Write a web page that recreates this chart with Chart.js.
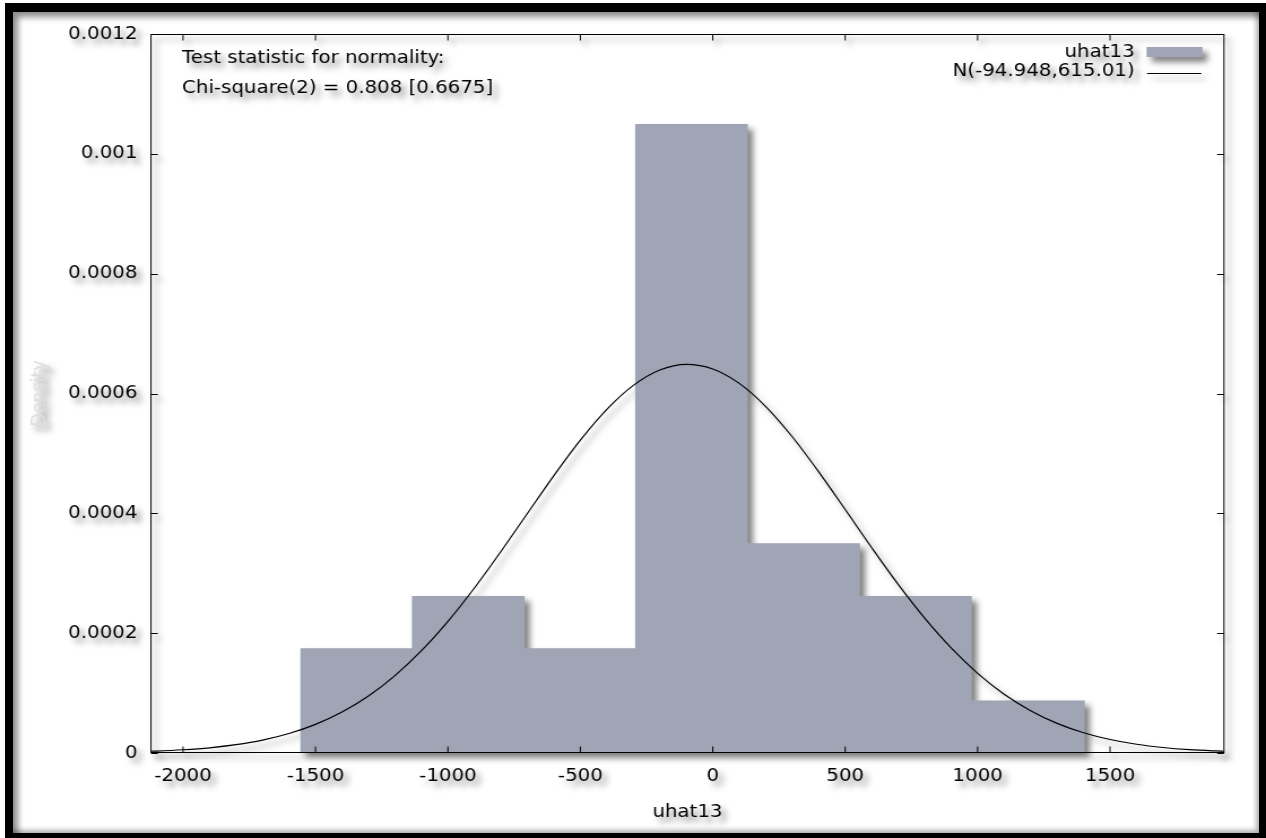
<!DOCTYPE html>
<html>
<head>
<meta charset="utf-8">
<title>uhat13 histogram</title>
<script src="https://cdn.jsdelivr.net/npm/chart.js@4.4.1/dist/chart.umd.min.js"></script>
<style>
  html, body { margin: 0; padding: 0; background: #fff; }
  #wrap { position: relative; width: 1266px; height: 838px; overflow: hidden; }
  #frame {
    position: absolute; left: 5px; top: 3px; width: 1261px; height: 835px;
    box-sizing: border-box; border-style: solid; border-color: #000;
    border-width: 9px 7px 5px 8px;
    box-shadow: inset 5px 5px 6px rgba(0,0,0,0.45), inset -3px -3px 5px rgba(0,0,0,0.3);
  }
  #chart {
    position: absolute; left: 0; top: 0;
    filter: drop-shadow(5px 5px 3px rgba(0,0,0,0.5));
  }
</style>
</head>
<body>
<div id="wrap">
  <div id="frame"></div>
  <!-- drawn narrower and stretched, the original picture is wider than tall text suggests -->
  <canvas id="chart" width="1120" height="838" style="width:1266px;height:838px"></canvas>
</div>
<script>
// histogram of uhat13 (bin edges and density per bin)
const binEdges = [-1558, -1136, -710, -293, 132, 556, 978, 1405];
const densities = [0.000175, 0.000262, 0.000175, 0.00105, 0.00035, 0.000262, 0.0000875];

// N(-94.948, 615.01) curve
const curveX = [-2121, -2100, -2000, -1900, -1800, -1700, -1600, -1500, -1400, -1300, -1200,
  -1100, -1000, -900, -800, -700, -600, -500, -400, -300, -200, -100, 0, 100, 200, 300,
  400, 500, 600, 700, 800, 900, 1000, 1100, 1200, 1300, 1400, 1500, 1600, 1700, 1800, 1900, 1930];
const curveY = [0.0000029, 0.0000032, 0.0000054, 0.0000087, 0.0000139, 0.0000215, 0.0000325,
  0.0000477, 0.0000683, 0.0000951, 0.0001291, 0.0001707, 0.0002197, 0.0002754, 0.0003363,
  0.0003998, 0.000463, 0.0005222, 0.0005736, 0.0006136, 0.0006393, 0.0006487, 0.000641,
  0.0006169, 0.0005782, 0.0005278, 0.0004692, 0.0004063, 0.0003426, 0.0002813, 0.000225,
  0.0001753, 0.000133, 0.0000982, 0.0000707, 0.0000495, 0.0000338, 0.0000225, 0.0000146,
  0.0000092, 0.0000056, 0.0000034, 0.0000029];

const xTicks = [-2000, -1500, -1000, -500, 0, 500, 1000, 1500];
const xTickLabels = ["-2000", "-1500", "-1000", "-500", "0", "500", "1000", "1500"];
const yTicks = [0, 0.0002, 0.0004, 0.0006, 0.0008, 0.001, 0.0012];
const yTickLabels = ["0", "0.0002", "0.0004", "0.0006", "0.0008", "0.001", "0.0012"];

const histLabel = "uhat13";
const curveLabel = "N(-94.948,615.01)";
const statLines = ["Test statistic for normality:", "Chi-square(2) = 0.808 [0.6675]"];

const X_MIN = -2121, X_MAX = 1930;
const BAR_COLOR = "#9fa5b5";
const FONT = { family: "'DejaVu Sans', Verdana, sans-serif", size: 17.5 };
const FONT_CSS = "17.5px 'DejaVu Sans', Verdana, sans-serif";

// step outline: start at 0, climb to each bin height, drop back at the last edge
const histPoints = [{ x: binEdges[0], y: 0 }];
densities.forEach((d, i) => histPoints.push({ x: binEdges[i], y: d }));
histPoints.push({ x: binEdges[binEdges.length - 1], y: densities[densities.length - 1] });
histPoints.push({ x: binEdges[binEdges.length - 1], y: 0 });

const curvePoints = curveX.map((x, i) => ({ x: x, y: curveY[i] }));

const boxPlugin = {
  id: "gnuplotBox",
  afterDatasetsDraw(chart) {
    const { ctx, chartArea: a, scales: { x, y } } = chart;
    const top = Math.round(a.top) + 0.5;
    const bottom = Math.round(a.bottom) - 0.5;
    ctx.save();
    ctx.strokeStyle = "#000";
    ctx.lineWidth = 1;
    ctx.strokeRect(a.left, top, a.right - a.left, bottom - top);

    // inward ticks on all four sides
    ctx.beginPath();
    xTicks.forEach(v => {
      const px = x.getPixelForValue(v);
      ctx.moveTo(px, bottom); ctx.lineTo(px, bottom - 6);
      ctx.moveTo(px, top); ctx.lineTo(px, top + 6);
    });
    yTicks.forEach(v => {
      const py = Math.round(y.getPixelForValue(v)) + 0.5;
      ctx.moveTo(a.left, py); ctx.lineTo(a.left + 6, py);
      ctx.moveTo(a.right, py); ctx.lineTo(a.right - 6, py);
    });
    ctx.stroke();

    // normality test text
    ctx.fillStyle = "#000";
    ctx.font = FONT_CSS;
    ctx.textBaseline = "middle";
    ctx.textAlign = "left";
    ctx.fillText(statLines[0], a.left + 27.5, a.top + 24);
    ctx.fillText(statLines[1], a.left + 27.5, a.top + 54);

    // key, top right
    const ds = chart.data.datasets;
    ctx.textAlign = "right";
    ctx.fillText(ds[1].label, a.right - 79, a.top + 18);
    ctx.fillText(ds[0].label, a.right - 79, a.top + 37);
    ctx.fillStyle = ds[1].backgroundColor;
    ctx.fillRect(a.right - 68.5, a.top + 13, 49.5, 10);
    ctx.beginPath();
    ctx.strokeStyle = ds[0].borderColor;
    ctx.moveTo(a.right - 68, a.top + 39.5);
    ctx.lineTo(a.right - 20, a.top + 39.5);
    ctx.stroke();
    ctx.restore();
  }
};

new Chart(document.getElementById("chart"), {
  type: "line",
  data: {
    datasets: [
      {
        label: curveLabel,
        data: curvePoints,
        borderColor: "#000",
        borderWidth: 1.2,
        pointRadius: 0,
        fill: false,
        cubicInterpolationMode: "monotone",
        order: 1
      },
      {
        label: histLabel,
        data: histPoints,
        stepped: "before",
        borderColor: "rgba(0,0,0,0)",
        borderWidth: 0,
        backgroundColor: BAR_COLOR,
        fill: "origin",
        pointRadius: 0,
        order: 2
      }
    ]
  },
  options: {
    responsive: false,
    animation: false,
    devicePixelRatio: 1,
    layout: { padding: { left: 0, right: 37.2, top: 34, bottom: 0 } },
    plugins: { legend: { display: false }, tooltip: { enabled: false } },
    scales: {
      x: {
        type: "linear",
        min: X_MIN,
        max: X_MAX,
        grid: { display: false, drawTicks: false },
        border: { display: false },
        afterBuildTicks: s => { s.ticks = xTicks.map(v => ({ value: v })); },
        afterFit: s => { s.height = 85; },
        ticks: {
          color: "#000",
          font: FONT,
          padding: 13,
          maxRotation: 0,
          autoSkip: false,
          callback: (v, i) => xTickLabels[i]
        },
        title: {
          display: true,
          text: histLabel,
          color: "#000",
          font: FONT,
          padding: { top: 0, bottom: 15.5 }
        }
      },
      y: {
        min: 0,
        max: 0.0012,
        grid: { display: false, drawTicks: false },
        border: { display: false },
        afterBuildTicks: s => { s.ticks = yTicks.map(v => ({ value: v })); },
        afterFit: s => { s.width = 133.6; },
        ticks: {
          color: "#000",
          font: FONT,
          padding: 12,
          autoSkip: false,
          callback: (v, i) => yTickLabels[i]
        },
        title: {
          display: true,
          text: "Density",
          color: "#dedede",
          font: FONT,
          padding: { top: 24.5, bottom: 0 }
        }
      }
    }
  },
  plugins: [boxPlugin]
});
</script>
</body>
</html>
